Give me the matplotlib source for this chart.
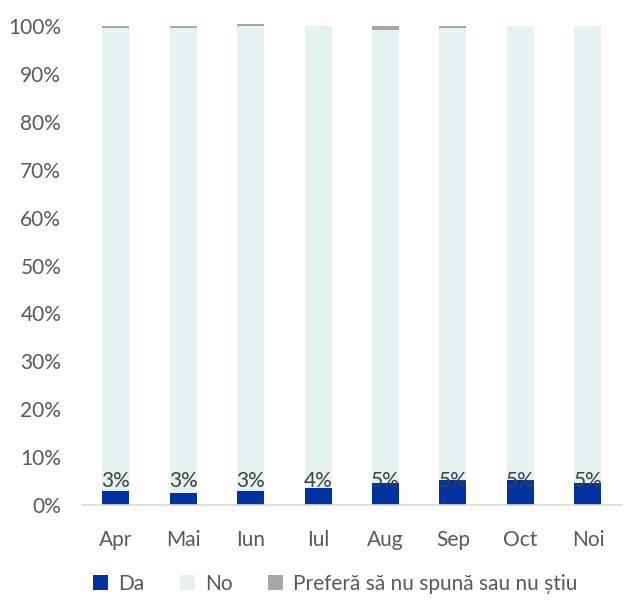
import matplotlib.pyplot as plt
import numpy as np

plt.rcParams['font.family'] = ['Lato', 'DejaVu Sans']

luni = ["Apr", "Mai", "Iun", "Iul", "Aug", "Sep", "Oct", "Noi"]
da = [3.0, 2.6, 3.0, 3.6, 4.6, 5.2, 5.2, 4.6]
nu = [96.6, 97.0, 97.0, 96.4, 94.6, 94.4, 94.8, 95.4]
nu_stie = [0.4, 0.4, 0.4, 0.0, 0.8, 0.4, 0.0, 0.0]

c_da = "#0033A0"
c_nu = "#E6F2F2"
c_ns = "#A6A6A6"
c_txt = "#595959"

fig = plt.figure(figsize=(6.26, 6.0), dpi=100)
ax = fig.add_axes([0.131, 0.1583, 0.862, 0.7984])

x = np.arange(len(luni))
w = 0.4
da = np.array(da)
nu = np.array(nu)
nu_stie = np.array(nu_stie)

ax.bar(x, da, w, color=c_da, label="Da")
ax.bar(x, nu, w, bottom=da, color=c_nu, label="No")
ax.bar(x, nu_stie, w, bottom=da + nu, color=c_ns, clip_on=False,
       label="Preferă să nu spună sau nu știu")

# etichete cu procentul "Da"
for xi, v in zip(x, da):
    ax.text(xi, 5.1, f"{v:.0f}%", ha="center", va="center",
            fontsize=15, color="#404040")

ax.set_xlim(-0.5, len(luni) - 0.5)
ax.set_ylim(0, 100)
ax.set_yticks(np.arange(0, 101, 10))
ax.set_yticklabels([f"{t}%" for t in range(0, 101, 10)])
ax.set_xticks(x)
ax.set_xticklabels(luni)
ax.tick_params(axis="y", length=0, pad=15, labelsize=15, labelcolor=c_txt)
ax.tick_params(axis="x", length=0, pad=18, labelsize=15, labelcolor=c_txt)

for s in ["top", "right", "left"]:
    ax.spines[s].set_visible(False)
ax.spines["bottom"].set_color("#D9D9D9")
ax.spines["bottom"].set_linewidth(1.2)

leg = fig.legend(loc="center", bbox_to_anchor=(0.536, 0.027), ncol=3,
                 frameon=False, fontsize=15, handlelength=0.7,
                 handleheight=0.7, handletextpad=0.5, columnspacing=1.7)
for t in leg.get_texts():
    t.set_color(c_txt)

fig.savefig("out.png", dpi=100)
